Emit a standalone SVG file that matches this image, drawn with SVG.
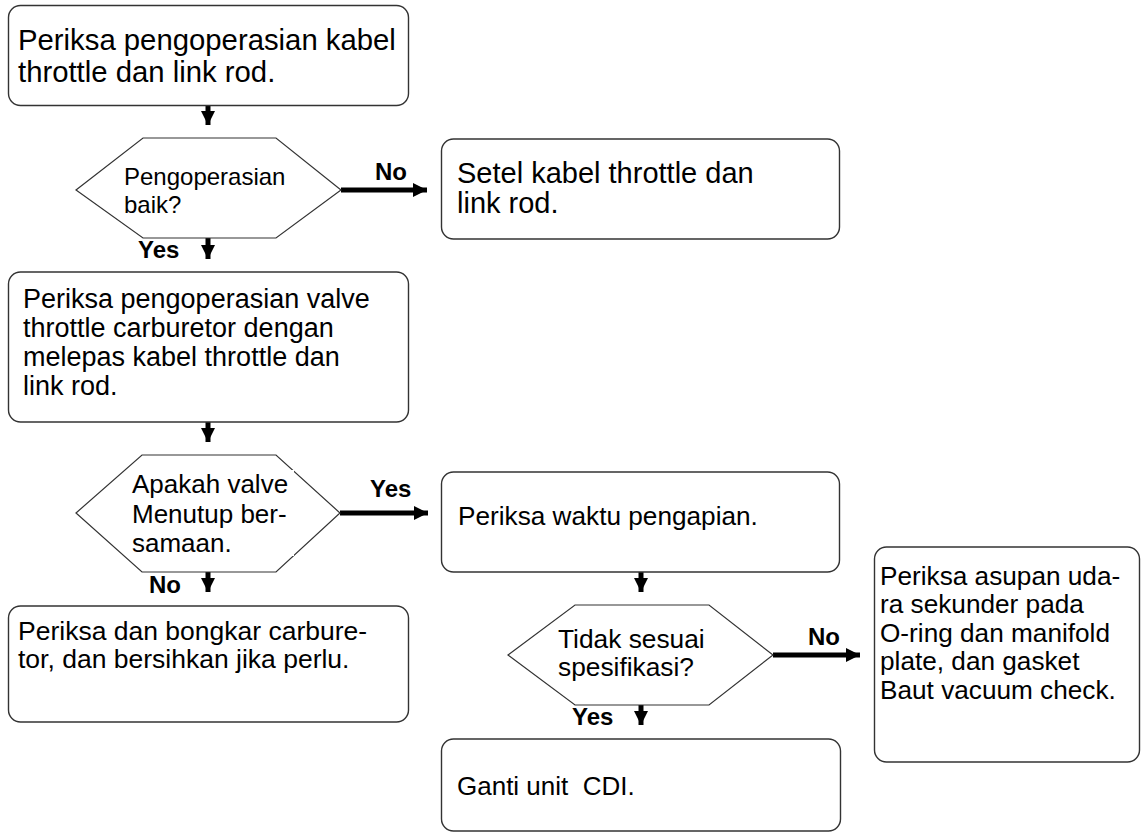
<svg xmlns="http://www.w3.org/2000/svg" width="1146" height="834" viewBox="0 0 1146 834">
<style>
.box{fill:#fff;stroke:#333;stroke-width:1.4}
.hex{fill:#fff;stroke:#333;stroke-width:1.2}
.t{font-family:"Liberation Sans",Arial,sans-serif;fill:#000}
.lbl{font-family:"Liberation Sans",Arial,sans-serif;font-weight:bold;font-size:24px;fill:#000}
.c{stroke:#000;stroke-width:5;fill:none}
</style>
<defs>
<marker id="ah" markerUnits="userSpaceOnUse" markerWidth="16" markerHeight="16" viewBox="0 0 16 16" refX="14" refY="8" orient="auto">
<path d="M0,1 L14,8 L0,15 Z" fill="#000"/>
</marker>
</defs>
<rect width="1146" height="834" fill="#fff"/>
<g id="connectors">
<path class="c" d="M208,105 V125" marker-end="url(#ah)"/>
<path class="c" d="M208,238 V259" marker-end="url(#ah)"/>
<path class="c" d="M208,422 V442" marker-end="url(#ah)"/>
<path class="c" d="M208,572 V592" marker-end="url(#ah)"/>
<path class="c" d="M641,572 V592" marker-end="url(#ah)"/>
<path class="c" d="M641,705 V725" marker-end="url(#ah)"/>
<path class="c" d="M341,190 H427" marker-end="url(#ah)"/>
<path class="c" d="M340,513 H428" marker-end="url(#ah)"/>
<path class="c" d="M773,655 H860" marker-end="url(#ah)"/>
<text class="lbl" x="375" y="180">No</text>
<text class="lbl" x="138" y="258">Yes</text>
<text class="lbl" x="370" y="497">Yes</text>
<text class="lbl" x="149" y="593">No</text>
<text class="lbl" x="808" y="645">No</text>
<text class="lbl" x="572" y="725">Yes</text>
</g>
<g id="n1">
<rect class="box" x="8.5" y="5.5" width="400" height="100" rx="12"/>
<text class="t" font-size="29.3" x="18" y="50">Periksa pengoperasian kabel</text>
<text class="t" font-size="29.3" x="18" y="82">throttle dan link rod.</text>
</g>
<g id="d1">
<polygon class="hex" points="76,190 143,138 276,138 341,190 276,238 143,238"/>
<text class="t" font-size="24" x="124" y="185">Pengoperasian</text>
<text class="t" font-size="24" x="124" y="213">baik?</text>
</g>
<g id="n2">
<rect class="box" x="441.5" y="139" width="398" height="100" rx="12"/>
<text class="t" font-size="29" x="457" y="183">Setel kabel throttle dan</text>
<text class="t" font-size="29" x="457" y="213">link rod.</text>
</g>
<g id="n3">
<rect class="box" x="8.5" y="272" width="400" height="150" rx="12"/>
<text class="t" font-size="27" x="23" y="308">Periksa pengoperasian valve</text>
<text class="t" font-size="27" x="23" y="337">throttle carburetor dengan</text>
<text class="t" font-size="27" x="23" y="366">melepas kabel throttle dan</text>
<text class="t" font-size="27" x="23" y="395">link rod.</text>
</g>
<g id="d2">
<polygon class="hex" points="76,513 142,455 276,455 340,513 276,572 142,572"/>
<rect x="131" y="470" width="163" height="86" fill="#fff"/>
<text class="t" font-size="26" x="132" y="493">Apakah valve</text>
<text class="t" font-size="26" x="132" y="523">Menutup ber-</text>
<text class="t" font-size="26" x="132" y="552">samaan.</text>
</g>
<g id="n4">
<rect class="box" x="441.5" y="472" width="398" height="100" rx="12"/>
<text class="t" font-size="26.2" x="458" y="525">Periksa waktu pengapian.</text>
</g>
<g id="n5">
<rect class="box" x="8.5" y="606" width="400" height="116" rx="12"/>
<text class="t" font-size="26.5" x="18" y="640">Periksa dan bongkar carbure-</text>
<text class="t" font-size="26.5" x="18" y="668">tor, dan bersihkan jika perlu.</text>
</g>
<g id="d3">
<polygon class="hex" points="508,655 575,605 709,605 773,655 709,705 575,705"/>
<text class="t" font-size="26.3" x="558" y="648">Tidak sesuai</text>
<text class="t" font-size="26.3" x="558" y="676">spesifikasi?</text>
</g>
<g id="n6">
<rect class="box" x="874.5" y="547" width="265" height="215" rx="12"/>
<text class="t" font-size="26.2" x="880" y="585">Periksa asupan uda-</text>
<text class="t" font-size="26.2" x="880" y="613">ra sekunder pada</text>
<text class="t" font-size="26.2" x="880" y="642">O-ring dan manifold</text>
<text class="t" font-size="26.2" x="880" y="670">plate, dan gasket</text>
<text class="t" font-size="26.2" x="880" y="699">Baut vacuum check.</text>
</g>
<g id="n7">
<rect class="box" x="441.5" y="739" width="399" height="92" rx="12"/>
<text class="t" font-size="26" x="457" y="795" xml:space="preserve">Ganti unit  CDI.</text>
</g>
</svg>
